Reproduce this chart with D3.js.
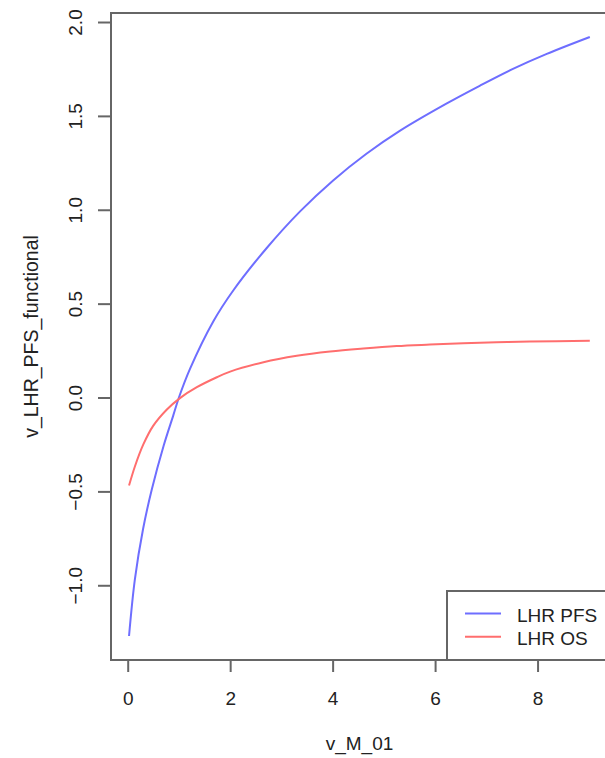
<!DOCTYPE html>
<html>
<head>
<meta charset="utf-8">
<script src="https://cdn.jsdelivr.net/npm/d3@7"></script>
<style>
  body { margin: 0; background: #fff; }
  svg text { font-family: "Liberation Sans", Arial, sans-serif; fill: #222; }
</style>
</head>
<body>
<svg id="chart"></svg>
<script>
const width = 605;
const height = 758;

// values
const pfsX = [0.026, 0.14, 0.30, 0.47, 0.70, 0.89, 1.0, 1.22, 1.67, 2.06, 2.71, 3.36, 4.01, 4.66, 5.31, 6.22, 6.87, 7.52, 8.18, 9.02];
const pfsY = [-1.27, -0.968, -0.70, -0.49, -0.258, -0.095, 0.0, 0.155, 0.405, 0.57, 0.795, 0.99, 1.156, 1.298, 1.42, 1.565, 1.66, 1.75, 1.83, 1.92];
const osX = [0.026, 0.142, 0.305, 0.5, 0.76, 1.02, 1.35, 1.74, 2.0, 2.65, 3.30, 3.95, 4.6, 5.25, 5.9, 6.55, 7.2, 7.85, 9.02];
const osY = [-0.469, -0.366, -0.25, -0.15, -0.065, -0.003, 0.055, 0.108, 0.138, 0.188, 0.222, 0.245, 0.261, 0.274, 0.282, 0.289, 0.294, 0.298, 0.303];
const xTicks = [0, 2, 4, 6, 8];
const yTicks = [-1.0, -0.5, 0.0, 0.5, 1.0, 1.5, 2.0];
const seriesNames = ["LHR PFS", "LHR OS"];
const seriesColors = ["#6e6eff", "#ff6e6e"];

const margin = {left: 111, top: 13, right: 608, bottom: 660};

const svg = d3.select("#chart")
    .attr("width", width)
    .attr("height", height);

const x = d3.scaleLinear().domain([-0.326, 9.375]).range([margin.left, margin.right]);
const y = d3.scaleLinear().domain([-1.398, 2.048]).range([margin.bottom, margin.top]);

const axisColor = "#666";
const fontSize = 19;

// x axis
const xAxis = svg.append("g")
    .attr("transform", `translate(0,${margin.bottom})`)
    .call(d3.axisBottom(x).tickValues(xTicks).tickSize(12).tickPadding(20).tickFormat(d3.format("d")));
xAxis.select(".domain").remove();
xAxis.selectAll(".tick line").attr("stroke", axisColor).attr("stroke-width", 2);
xAxis.selectAll(".tick text")
    .attr("font-size", fontSize)
    .attr("font-family", null)
    .attr("fill", null);

// y axis, labels rotated like base R
const yAxis = svg.append("g")
    .attr("transform", `translate(${margin.left},0)`)
    .call(d3.axisLeft(y).tickValues(yTicks).tickSize(13).tickFormat(d3.format(".1f")));
yAxis.select(".domain").remove();
yAxis.selectAll(".tick line").attr("stroke", axisColor).attr("stroke-width", 2);
yAxis.selectAll(".tick text")
    .attr("font-size", fontSize)
    .attr("font-family", null)
    .attr("fill", null)
    .attr("x", null).attr("dy", null)
    .attr("text-anchor", "middle")
    .attr("transform", `translate(${82 - margin.left},0) rotate(-90)`);

// lines
const line = d3.line()
    .x(d => x(d[0]))
    .y(d => y(d[1]))
    .curve(d3.curveCatmullRom.alpha(0.5));

const series = [
    d3.zip(pfsX, pfsY),
    d3.zip(osX, osY)
];

svg.selectAll(".series")
    .data(series)
    .join("path")
    .attr("class", "series")
    .attr("d", line)
    .attr("fill", "none")
    .attr("stroke", (d, i) => seriesColors[i])
    .attr("stroke-width", 2);

// plot box
svg.append("rect")
    .attr("x", margin.left)
    .attr("y", margin.top)
    .attr("width", margin.right - margin.left)
    .attr("height", margin.bottom - margin.top)
    .attr("fill", "none")
    .attr("stroke", axisColor)
    .attr("stroke-width", 2);

// legend (bottomright)
const legend = svg.append("g");
legend.append("rect")
    .attr("x", 447)
    .attr("y", 591)
    .attr("width", margin.right - 447)
    .attr("height", margin.bottom - 591)
    .attr("fill", "#fff")
    .attr("stroke", axisColor)
    .attr("stroke-width", 2);

const items = legend.selectAll(".item")
    .data(seriesNames)
    .join("g")
    .attr("class", "item")
    .attr("transform", (d, i) => `translate(0,${613.5 + i * 23.3})`);
items.append("line")
    .attr("x1", 465).attr("x2", 501)
    .attr("stroke", (d, i) => seriesColors[i])
    .attr("stroke-width", 2);
items.append("text")
    .attr("x", 517)
    .attr("y", 8.5)
    .attr("font-size", fontSize)
    .text(d => d);

// axis titles
svg.append("text")
    .attr("x", (margin.left + margin.right) / 2)
    .attr("y", 750)
    .attr("text-anchor", "middle")
    .attr("font-size", fontSize)
    .text("v_M_01");

svg.append("text")
    .attr("transform", `translate(38,${(margin.top + margin.bottom) / 2}) rotate(-90)`)
    .attr("text-anchor", "middle")
    .attr("font-size", 19.5)
    .text("v_LHR_PFS_functional");
</script>
</body>
</html>
